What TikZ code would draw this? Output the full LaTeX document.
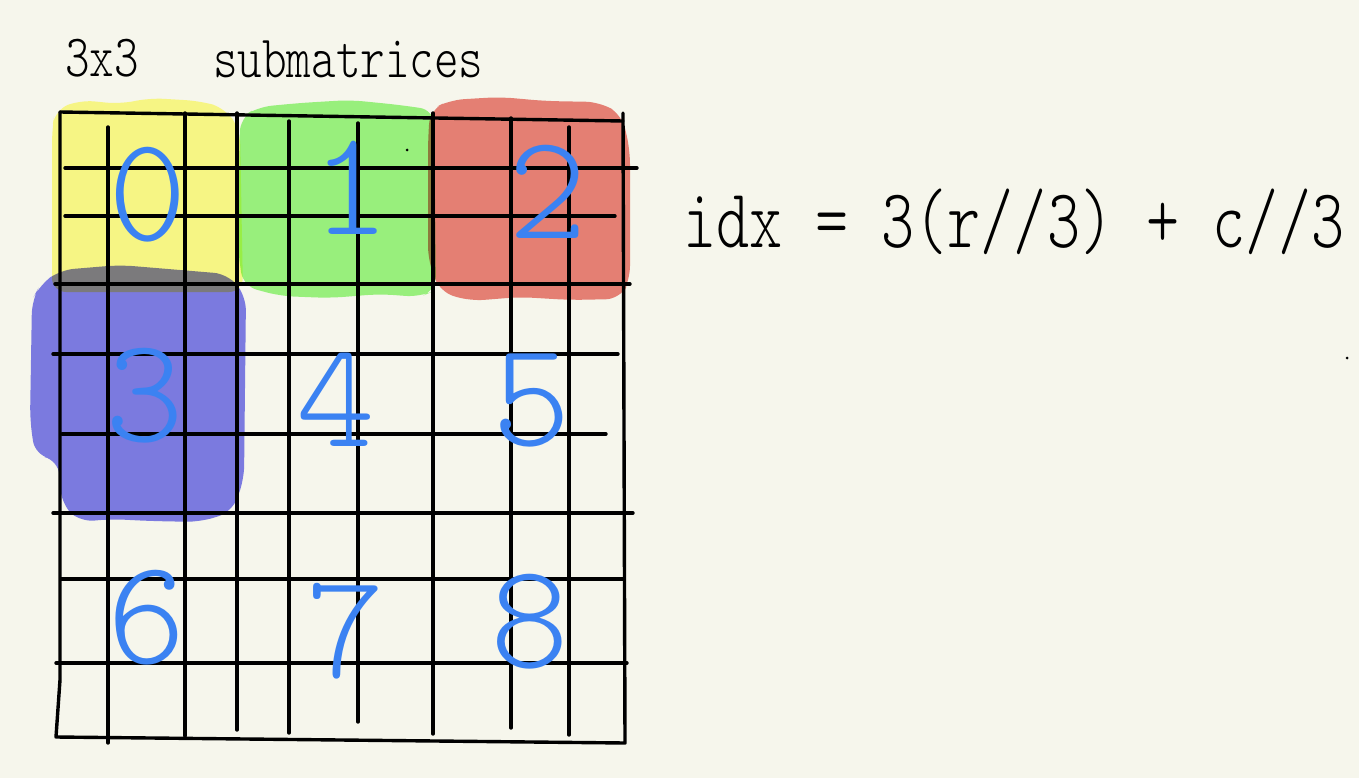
\documentclass[tikz,border=0pt]{standalone}
\usepackage{fontspec}
\usepackage{graphicx}
\usepackage{xcolor}
\usepackage{tikz}
\usetikzlibrary{positioning}
\newfontfamily\handfont{Latin Modern Mono Light}

\definecolor{paper}{HTML}{F6F6EC}
\definecolor{hlyellow}{HTML}{FFFE8F}
\definecolor{hlgreen}{HTML}{9EF886}
\definecolor{hlred}{HTML}{ED847D}
\definecolor{hlblue}{HTML}{807FF1}
\definecolor{inkblue}{HTML}{3B82F2}

\begin{document}
\begin{tikzpicture}[
    x=1pt, y=-1pt,
    gridline/.style = {line width=3.4pt, line cap=round, line join=round},
    blob/.style     = {rounded corners=14pt, blend mode=multiply},
    digit/.style    = {inner sep=0pt, text=inkblue,
                       font=\handfont\fontsize{150}{150}\selectfont},
    hand/.style     = {inner sep=0pt, anchor=base west}
]
  \fill[paper] (0,0) rectangle (1359,778);
  \useasboundingbox (0,0) rectangle (1359,778);

  % highlighted submatrices
  \fill[blob, hlyellow] (55,110) -- (80,100) -- (120,104) -- (150,98) -- (200,101)
        -- (225,108) -- (240,130) -- (243,292) -- (52,292) -- (52,130) -- cycle;
  \fill[blob, hlgreen] (240,118) -- (258,107) -- (300,103) -- (350,100) -- (400,105)
        -- (434,110) -- (436,290) -- (420,297) -- (380,294) -- (330,298)
        -- (280,296) -- (243,286) -- (238,250) -- cycle;
  \fill[blob, hlred] (430,110) -- (450,100) -- (500,97) -- (545,101) -- (600,102)
        -- (622,115) -- (630,150) -- (630,280) -- (620,299) -- (570,300)
        -- (520,297) -- (470,301) -- (440,292) -- (428,260) -- (428,140) -- cycle;
  \fill[blob, hlblue] (40,285) -- (60,270) -- (120,265) -- (180,270) -- (228,274)
        -- (246,296) -- (244,480) -- (232,512) -- (200,522) -- (150,521)
        -- (110,519) -- (80,522) -- (62,505) -- (58,460) -- (35,455)
        -- (30,420) -- (32,300) -- cycle;

  % grid
  \draw[gridline] (60,112) -- (623,121);
  \draw[gridline] (60,112) -- (60,680) -- (56,737) -- (625,743) -- (623,113);
  \foreach \x/\ya/\yb in {108/127/743, 185/113/736, 237/113/730, 289/121/733,
                          358/123/722, 433/113/734, 511/118/728, 569/127/735}
    \draw[gridline] (\x,\ya) -- (\x,\yb);
  \foreach \y/\xa/\xb in {168/65/637, 216/65/615, 284/55/630, 354/53/618,
                          434/62/606, 513/53/633, 579/61/624, 663/56/627}
    \draw[gridline] (\xa,\y) -- (\xb,\y);

  % submatrix numbers
  \node[digit] (d0) at (148,195) {0};
  \node[digit] (d1) at (351,188) {1};
  \node[digit] (d2) at (548,192) {2};
  \node[digit] (d3) at (145,396) {3};
  \node[digit] (d4) at (336,400) {4};
  \node[digit] (d5) at (532,400) {5};
  \node[digit] (d6) at (147,618) {6};
  \node[digit] (d7) at (346,631) {7};
  \node[digit] (d8) at (530,622) {8};

  % title and formula
  \node[hand, font=\handfont\fontsize{60}{60}\selectfont] (size) at (65,77)
        {\scalebox{0.78}[1]{3x3}};
  \node[hand, font=\handfont\fontsize{60}{60}\selectfont] (title) at (213,78)
        {\scalebox{0.78}[1]{submatrices}};
  \node[hand, font=\handfont\fontsize{84}{84}\selectfont] (idx) at (683,247)
        {\scalebox{0.75}[1]{idx = 3(r//3) + c//3}};

  \fill (407,150) circle (1.5);
  \fill (1347,358) circle (1.5);
\end{tikzpicture}
\end{document}
